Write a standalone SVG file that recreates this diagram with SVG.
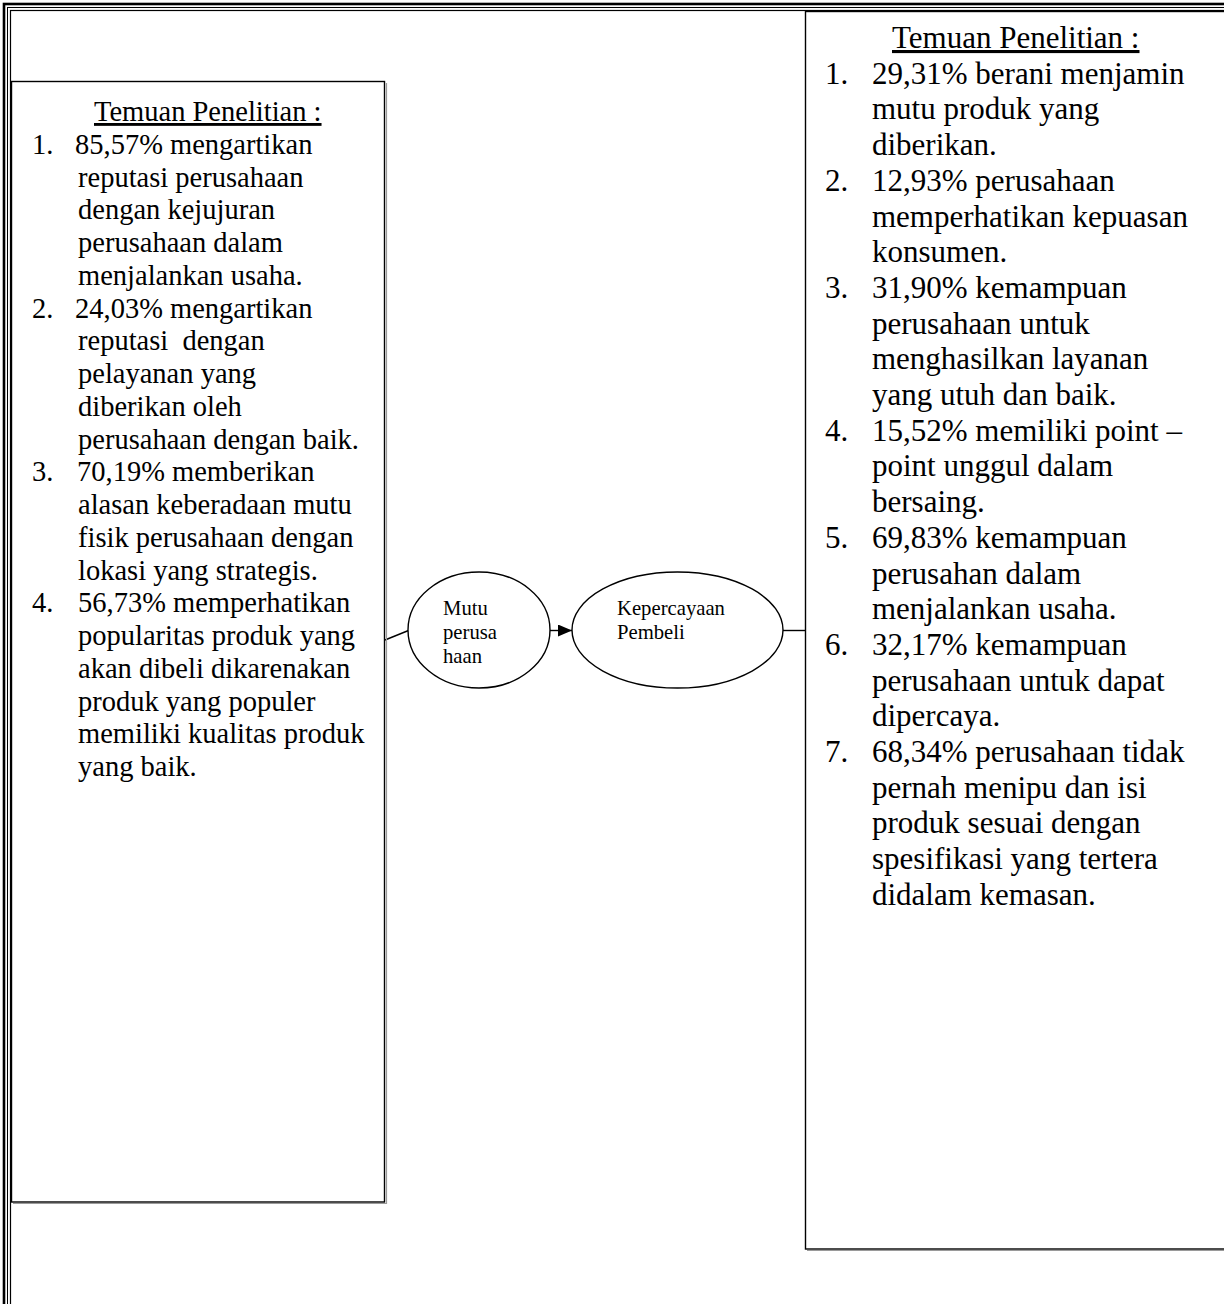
<svg xmlns="http://www.w3.org/2000/svg" width="1224" height="1304" viewBox="0 0 1224 1304">
  <style>
    .frame { fill: none; stroke: #000; }
    .box { fill: #fff; stroke: #000; stroke-width: 1.4; }
    .shadow { fill: none; stroke: #9a9a9a; stroke-width: 1.2; }
    .oval { fill: #fff; stroke: #000; stroke-width: 1.4; }
    .link { fill: none; stroke: #000; stroke-width: 1.4; }
    .t { font-family: "Liberation Serif", "Times New Roman", serif; fill: #000; }
    .l { font-size: 28.5px; }
    .r { font-size: 31px; }
    .o { font-size: 20.7px; }
    .u { text-decoration: underline; }
  </style>
  <defs>
    <marker id="arrow" viewBox="0 0 14 12" refX="14" refY="6" markerWidth="14" markerHeight="12" markerUnits="userSpaceOnUse" orient="auto">
      <path d="M0,0 L14,6 L0,12 Z" fill="#000"/>
    </marker>
  </defs>
  <rect width="1224" height="1304" fill="#fff"/>

  <!-- page border: thick outer line with two thin inner lines -->
  <g id="page-border">
    <rect class="frame" x="4" y="4" width="1240" height="1320" stroke-width="2.6"/>
    <rect class="frame" x="7.5" y="7.5" width="1240" height="1320" stroke-width="1"/>
    <rect class="frame" x="10.5" y="10.5" width="1240" height="1320" stroke-width="1.2"/>
  </g>

  <!-- connectors -->
  <g id="connectors">
    <line class="link" x1="385" y1="640" x2="408.5" y2="630.5"/>
    <line class="link" x1="550" y1="630.5" x2="572" y2="630.5" marker-end="url(#arrow)"/>
    <line class="link" x1="783" y1="630.5" x2="805" y2="630.5"/>
  </g>

  <!-- left findings box -->
  <g id="node-temuan-kiri">
    <path class="shadow" d="M386.5,83 V1203.5 H13"/>
    <rect class="box" x="11.5" y="81.5" width="373" height="1120.5"/>
    <g class="t l">
      <text x="94" y="121" class="u">Temuan Penelitian :</text>
      <text x="32" y="153.75">1.</text><text x="75" y="153.75">85,57% mengartikan</text>
      <text x="78" y="186.5">reputasi perusahaan</text>
      <text x="78" y="219.25">dengan kejujuran</text>
      <text x="78" y="252">perusahaan dalam</text>
      <text x="78" y="284.75">menjalankan usaha.</text>
      <text x="32" y="317.5">2.</text><text x="75" y="317.5">24,03% mengartikan</text>
      <text x="78" y="350.25" xml:space="preserve">reputasi  dengan</text>
      <text x="78" y="383">pelayanan yang</text>
      <text x="78" y="415.75">diberikan oleh</text>
      <text x="78" y="448.5">perusahaan dengan baik.</text>
      <text x="32" y="481.25">3.</text><text x="77" y="481.25">70,19% memberikan</text>
      <text x="78" y="514">alasan keberadaan mutu</text>
      <text x="78" y="546.75">fisik perusahaan dengan</text>
      <text x="78" y="579.5">lokasi yang strategis.</text>
      <text x="32" y="612.25">4.</text><text x="78" y="612.25">56,73% memperhatikan</text>
      <text x="78" y="645">popularitas produk yang</text>
      <text x="78" y="677.75">akan dibeli dikarenakan</text>
      <text x="78" y="710.5">produk yang populer</text>
      <text x="78" y="743.25">memiliki kualitas produk</text>
      <text x="78" y="776">yang baik.</text>
    </g>
  </g>

  <!-- oval: Mutu perusahaan -->
  <g id="node-mutu">
    <ellipse class="oval" cx="479" cy="630" rx="71" ry="58"/>
    <g class="t o">
      <text x="443" y="615">Mutu</text>
      <text x="443" y="639">perusa</text>
      <text x="443" y="663">haan</text>
    </g>
  </g>

  <!-- oval: Kepercayaan Pembeli -->
  <g id="node-kepercayaan">
    <ellipse class="oval" cx="677.5" cy="630" rx="105.5" ry="58"/>
    <g class="t o">
      <text x="617" y="615">Kepercayaan</text>
      <text x="617" y="639">Pembeli</text>
    </g>
  </g>

  <!-- right findings box -->
  <g id="node-temuan-kanan">
    <path class="shadow" d="M807,1250.5 H1240"/>
    <rect class="box" x="805.5" y="11.5" width="440" height="1237.5"/>
    <g class="t r">
      <text x="892" y="48" class="u">Temuan Penelitian :</text>
      <text x="825" y="83.7">1.</text><text x="872" y="83.7">29,31% berani menjamin</text>
      <text x="872" y="119.4">mutu produk yang</text>
      <text x="872" y="155.1">diberikan.</text>
      <text x="825" y="190.8">2.</text><text x="872" y="190.8">12,93% perusahaan</text>
      <text x="872" y="226.5">memperhatikan kepuasan</text>
      <text x="872" y="262.2">konsumen.</text>
      <text x="825" y="297.9">3.</text><text x="872" y="297.9">31,90% kemampuan</text>
      <text x="872" y="333.6">perusahaan untuk</text>
      <text x="872" y="369.3">menghasilkan layanan</text>
      <text x="872" y="405">yang utuh dan baik.</text>
      <text x="825" y="440.7">4.</text><text x="872" y="440.7">15,52% memiliki point –</text>
      <text x="872" y="476.4">point unggul dalam</text>
      <text x="872" y="512.1">bersaing.</text>
      <text x="825" y="547.8">5.</text><text x="872" y="547.8">69,83% kemampuan</text>
      <text x="872" y="583.5">perusahan dalam</text>
      <text x="872" y="619.2">menjalankan usaha.</text>
      <text x="825" y="654.9">6.</text><text x="872" y="654.9">32,17% kemampuan</text>
      <text x="872" y="690.6">perusahaan untuk dapat</text>
      <text x="872" y="726.3">dipercaya.</text>
      <text x="825" y="762">7.</text><text x="872" y="762">68,34% perusahaan tidak</text>
      <text x="872" y="797.7">pernah menipu dan isi</text>
      <text x="872" y="833.4">produk sesuai dengan</text>
      <text x="872" y="869.1">spesifikasi yang tertera</text>
      <text x="872" y="904.8">didalam kemasan.</text>
    </g>
  </g>
</svg>
